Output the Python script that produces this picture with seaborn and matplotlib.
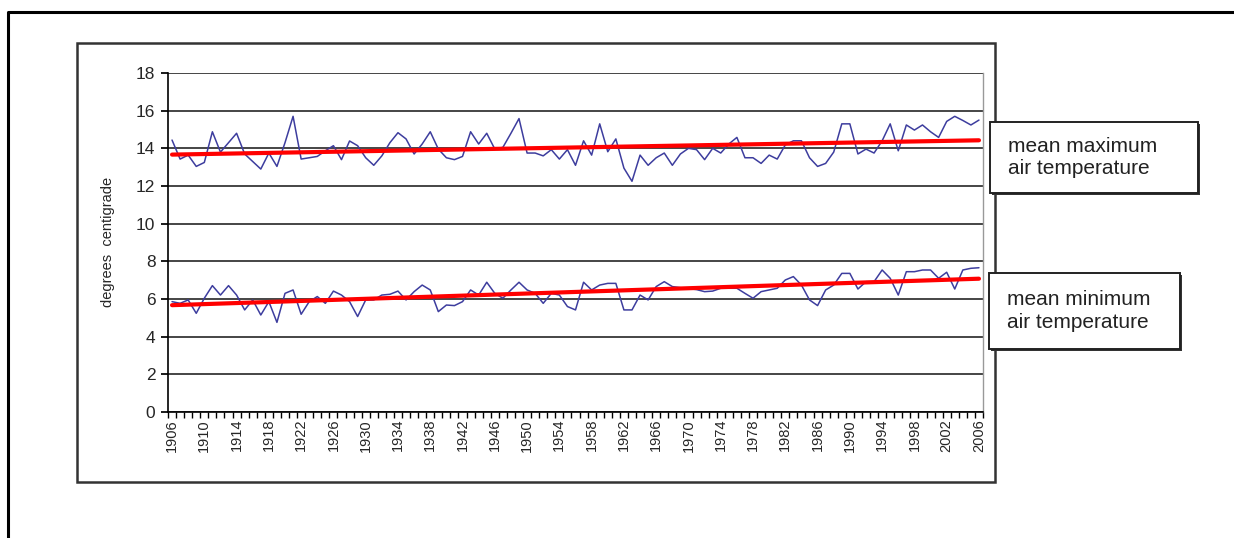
import numpy as np
import pandas as pd
import matplotlib.pyplot as plt
import seaborn as sns
from matplotlib.patches import Rectangle
from matplotlib.lines import Line2D

# Data
years = list(range(1906, 2007))
max_temp = [
    14.44, 13.43, 13.64, 13.04, 13.25, 14.88, 13.80, 14.30, 14.80, 13.70,
    13.30, 12.90, 13.75, 13.04, 14.30, 15.70, 13.43, 13.50, 13.57, 13.87,
    14.14, 13.40, 14.39, 14.14, 13.50,
    13.10, 13.60, 14.30, 14.83, 14.50, 13.70, 14.23, 14.88, 13.96, 13.50,
    13.40, 13.57, 14.88, 14.23, 14.80, 13.96, 14.05, 14.80, 15.58, 13.75,
    13.75, 13.60, 13.93, 13.43, 13.93,
    13.10, 14.40, 13.64, 15.30, 13.82, 14.50, 12.95, 12.25, 13.64, 13.10,
    13.50, 13.75, 13.10, 13.70, 14.00, 13.93, 13.40, 14.00, 13.75, 14.23,
    14.58, 13.50, 13.50, 13.20, 13.64,
    13.43, 14.18, 14.40, 14.40, 13.50, 13.04, 13.20, 13.80, 15.30, 15.30,
    13.70, 13.96, 13.75, 14.40, 15.30, 13.87, 15.24, 14.97, 15.24, 14.88,
    14.58, 15.43, 15.70, 15.48, 15.24, 15.50,
]
min_temp = [
    5.86, 5.77, 5.95, 5.24, 6.04, 6.71, 6.21, 6.71, 6.21, 5.42,
    5.95, 5.15, 5.86, 4.76, 6.30, 6.48, 5.19, 5.86, 6.13, 5.77,
    6.42, 6.21, 5.86, 5.07, 5.95,
    5.95, 6.21, 6.25, 6.42, 5.95, 6.39, 6.74, 6.48, 5.33, 5.68,
    5.65, 5.86, 6.48, 6.21, 6.89, 6.30, 6.04, 6.48, 6.89, 6.48,
    6.30, 5.77, 6.30, 6.21, 5.60,
    5.42, 6.89, 6.48, 6.74, 6.83, 6.83, 5.42, 5.42, 6.21, 5.95,
    6.66, 6.92, 6.66, 6.60, 6.55, 6.50, 6.39, 6.42, 6.57, 6.57,
    6.57, 6.30, 6.04, 6.39,
    6.48, 6.57, 7.01, 7.19, 6.74, 5.95, 5.65, 6.48, 6.74, 7.36,
    7.36, 6.53, 6.92, 6.92, 7.54, 7.10, 6.21, 7.45, 7.45, 7.54,
    7.54, 7.10, 7.42, 6.53, 7.54, 7.63, 7.66,
]
tick_years = list(range(1906, 2007, 4))
y_ticks = list(range(0, 19, 2))
label_max = "mean maximum\nair temperature"
label_min = "mean minimum\nair temperature"

W, H = 1234, 538


def fx(px):
    return px / W


def fy(py):
    return 1 - py / H


sns.set_theme(style="white")
plt.rcParams['font.family'] = ['Liberation Sans', 'DejaVu Sans']

df = pd.DataFrame({"year": years, "max": max_temp, "min": min_temp})

fig = plt.figure(figsize=(12.34, 5.38), dpi=100)
ax = fig.add_axes([fx(168), fy(412), fx(983) - fx(168), fy(73) - fy(412)])

for col in ["max", "min"]:
    sns.lineplot(data=df, x="year", y=col, ax=ax, color="#3d3d9e", lw=1.1)
    sns.regplot(data=df, x="year", y=col, ax=ax, scatter=False, ci=None,
                color="#ff0000", line_kws={"lw": 3})

ax.set_xlim(1905.5, 2006.5)
ax.set_ylim(0, 18)
ax.set_yticks(y_ticks)
ax.yaxis.grid(True, color="#454545", lw=1.4)
ax.set_axisbelow(True)
ax.set_xticks(tick_years)
ax.set_xticklabels([str(y) for y in tick_years], rotation=90, fontsize=10.5)
ax.set_xticks(np.arange(1905.5, 2007, 1), minor=True)
ax.tick_params(axis='x', which='major', bottom=True, length=0, pad=5)
ax.tick_params(axis='x', which='minor', bottom=True, length=4,
               direction='out', color='black', width=1)
ax.tick_params(axis='y', left=True, length=5, direction='out',
               color='black', labelsize=12.5, pad=4)
ax.set_xlabel("")
ax.set_ylabel("")

for side in ["left", "bottom"]:
    ax.spines[side].set_color("black")
    ax.spines[side].set_linewidth(1.2)
ax.spines["top"].set_visible(False)
ax.spines["right"].set_color("#999999")
ax.spines["right"].set_linewidth(1)

fig.text(fx(108), fy(242), "degrees  centigrade", rotation=90,
         fontsize=10.5, ha="center", va="center")

# chart frame and outer frame
fig.add_artist(Rectangle((fx(77), fy(482)), fx(995) - fx(77), fy(43) - fy(482),
                         transform=fig.transFigure, fill=False,
                         ec="#333333", lw=1.8))
fig.add_artist(Line2D([fx(8), fx(8), 1], [0, fy(12), fy(12)],
                      transform=fig.transFigure, color="black", lw=2.2))

# series labels with a small shadow
for (x0, y0, x1, y1), text in [((990, 122, 1198, 193), label_max),
                               ((989, 273, 1180, 349), label_min)]:
    fig.add_artist(Rectangle((fx(x0 + 2), fy(y1 + 2)), fx(x1) - fx(x0),
                             fy(y0) - fy(y1), transform=fig.transFigure,
                             fc="#333333", ec="none", zorder=4))
    fig.add_artist(Rectangle((fx(x0), fy(y1)), fx(x1) - fx(x0), fy(y0) - fy(y1),
                             transform=fig.transFigure, fc="white",
                             ec="#222222", lw=1.4, zorder=5))
    fig.text(fx(x0 + 18), fy((y0 + y1) / 2), text, fontsize=15,
             ha="left", va="center", linespacing=1.25, zorder=6, color="#222222")

fig.savefig("out.png", dpi=100)
